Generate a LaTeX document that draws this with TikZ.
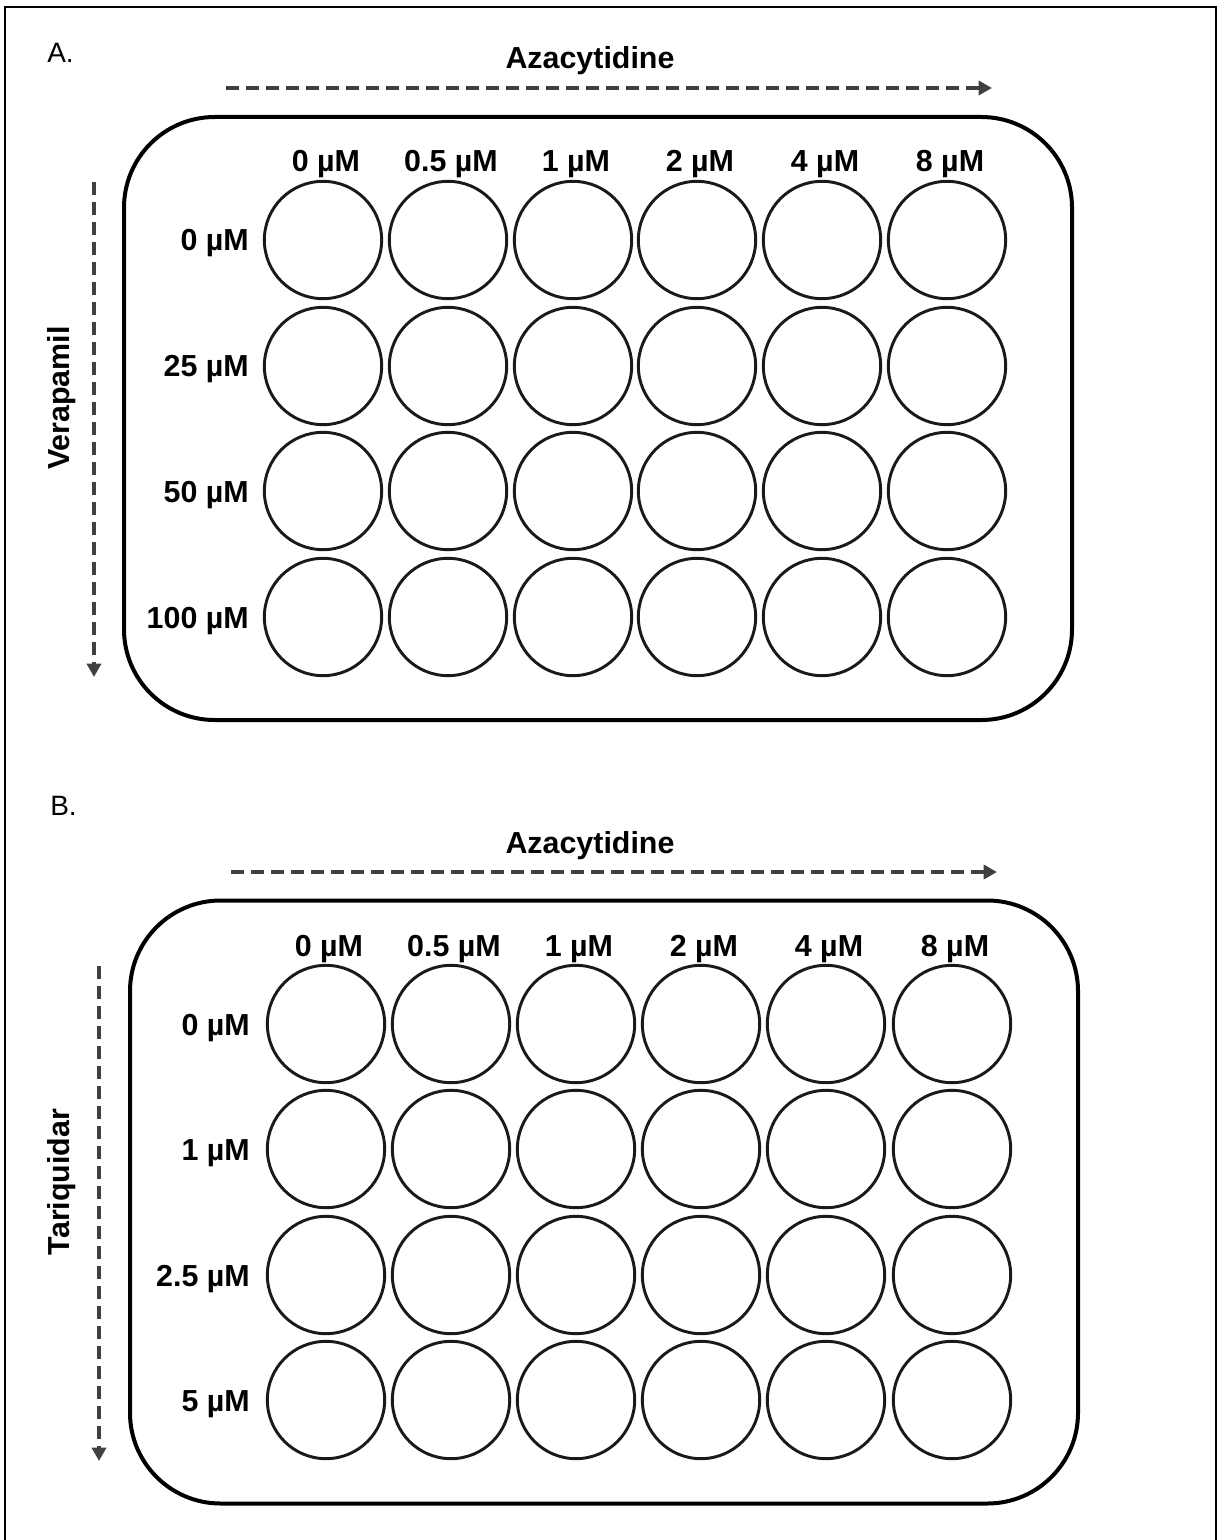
\documentclass[tikz,border=0pt]{standalone}
\usepackage{fontspec}
\setmainfont{Liberation Sans}
\usetikzlibrary{arrows.meta,calc}
\definecolor{arrowgray}{HTML}{404040}
\definecolor{wellline}{HTML}{1A1A1A}
\begin{document}
\begin{tikzpicture}[x=0.75pt,y=-0.75pt,
  well/.style={circle,draw=wellline,line width=2.2pt,minimum size=88pt,inner sep=0pt},
  plate/.style={draw=black,line width=3pt,rounded corners=68pt,inner sep=0pt},
  conc/.style={font=\fontsize{22.8}{26}\selectfont\bfseries,inner sep=0pt},
  axislabel/.style={font=\fontsize{22.8}{26}\selectfont\bfseries,inner sep=0pt},
  panellabel/.style={font=\fontsize{21}{25}\selectfont,inner sep=0pt,anchor=base west},
  doseaxis/.style={draw=arrowgray,line width=3pt,dash pattern=on 10pt off 5pt,
    -{Triangle[length=10pt,width=10.5pt]}}
]
\useasboundingbox (0,0) rectangle (1218,1540);
% outer frame (open at bottom)
\draw[line width=1.5pt] (5,1540) -- (5,7) -- (1216,7) -- (1216,1540);

% ---------------- Panel A ----------------
\node[panellabel] (labA) at (47,63) {A.};
\node[axislabel,anchor=base] (azaA) at (590,69) {Azacytidine};
\coordinate (azaAstart) at (226,88);
\coordinate (azaAend) at (992,88);
\draw[doseaxis] (azaAstart) -- (azaAend);
\node[axislabel,rotate=90] (vera) at (62,398) {Verapamil};
\coordinate (veraStart) at (94,182);
\coordinate (veraEnd) at (94,677);
\draw[doseaxis] (veraStart) -- (veraEnd);
\node[plate,minimum width=948*0.75pt,minimum height=603*0.75pt] (plateA) at (598,418.5) {};

\foreach \x [count=\c] in {323,448,573,697,822,947}{
  \foreach \y [count=\r] in {240,366,491,617}{
    \node[well] (A-\r-\c) at (\x,\y) {};
  }
}
\foreach \lab [count=\c] in {0 µM,0.5 µM,1 µM,2 µM,4 µM,8 µM}{
  \node[conc,anchor=base] (Acol-\c) at ($(A-1-\c.center)+(3,-68)$) {\lab};
}
\foreach \lab [count=\r] in {0 µM,25 µM,50 µM,100 µM}{
  \node[conc,anchor=base east] (Arow-\r) at ($(A-\r-1.center)+(-74,11)$) {\lab};
}

% ---------------- Panel B ----------------
\node[panellabel] (labB) at (50,815) {B.};
\node[axislabel,anchor=base] (azaB) at (590,853) {Azacytidine};
\coordinate (azaBstart) at (231,872);
\coordinate (azaBend) at (997,872);
\draw[doseaxis] (azaBstart) -- (azaBend);
\node[axislabel,rotate=90] (tari) at (62,1182) {Tariquidar};
\coordinate (tariStart) at (99,966);
\coordinate (tariEnd) at (99,1461);
\draw[doseaxis] (tariStart) -- (tariEnd);
\node[plate,minimum width=948*0.75pt,minimum height=603*0.75pt] (plateB) at (604,1202) {};

\foreach \x [count=\c] in {326,451,576,701,826,952}{
  \foreach \y [count=\r] in {1024,1149,1275,1400}{
    \node[well] (B-\r-\c) at (\x,\y) {};
  }
}
\foreach \lab [count=\c] in {0 µM,0.5 µM,1 µM,2 µM,4 µM,8 µM}{
  \node[conc,anchor=base] (Bcol-\c) at ($(B-1-\c.center)+(3,-68)$) {\lab};
}
\foreach \lab [count=\r] in {0 µM,1 µM,2.5 µM,5 µM}{
  \node[conc,anchor=base east] (Brow-\r) at ($(B-\r-1.center)+(-76,11)$) {\lab};
}
\end{tikzpicture}
\end{document}
